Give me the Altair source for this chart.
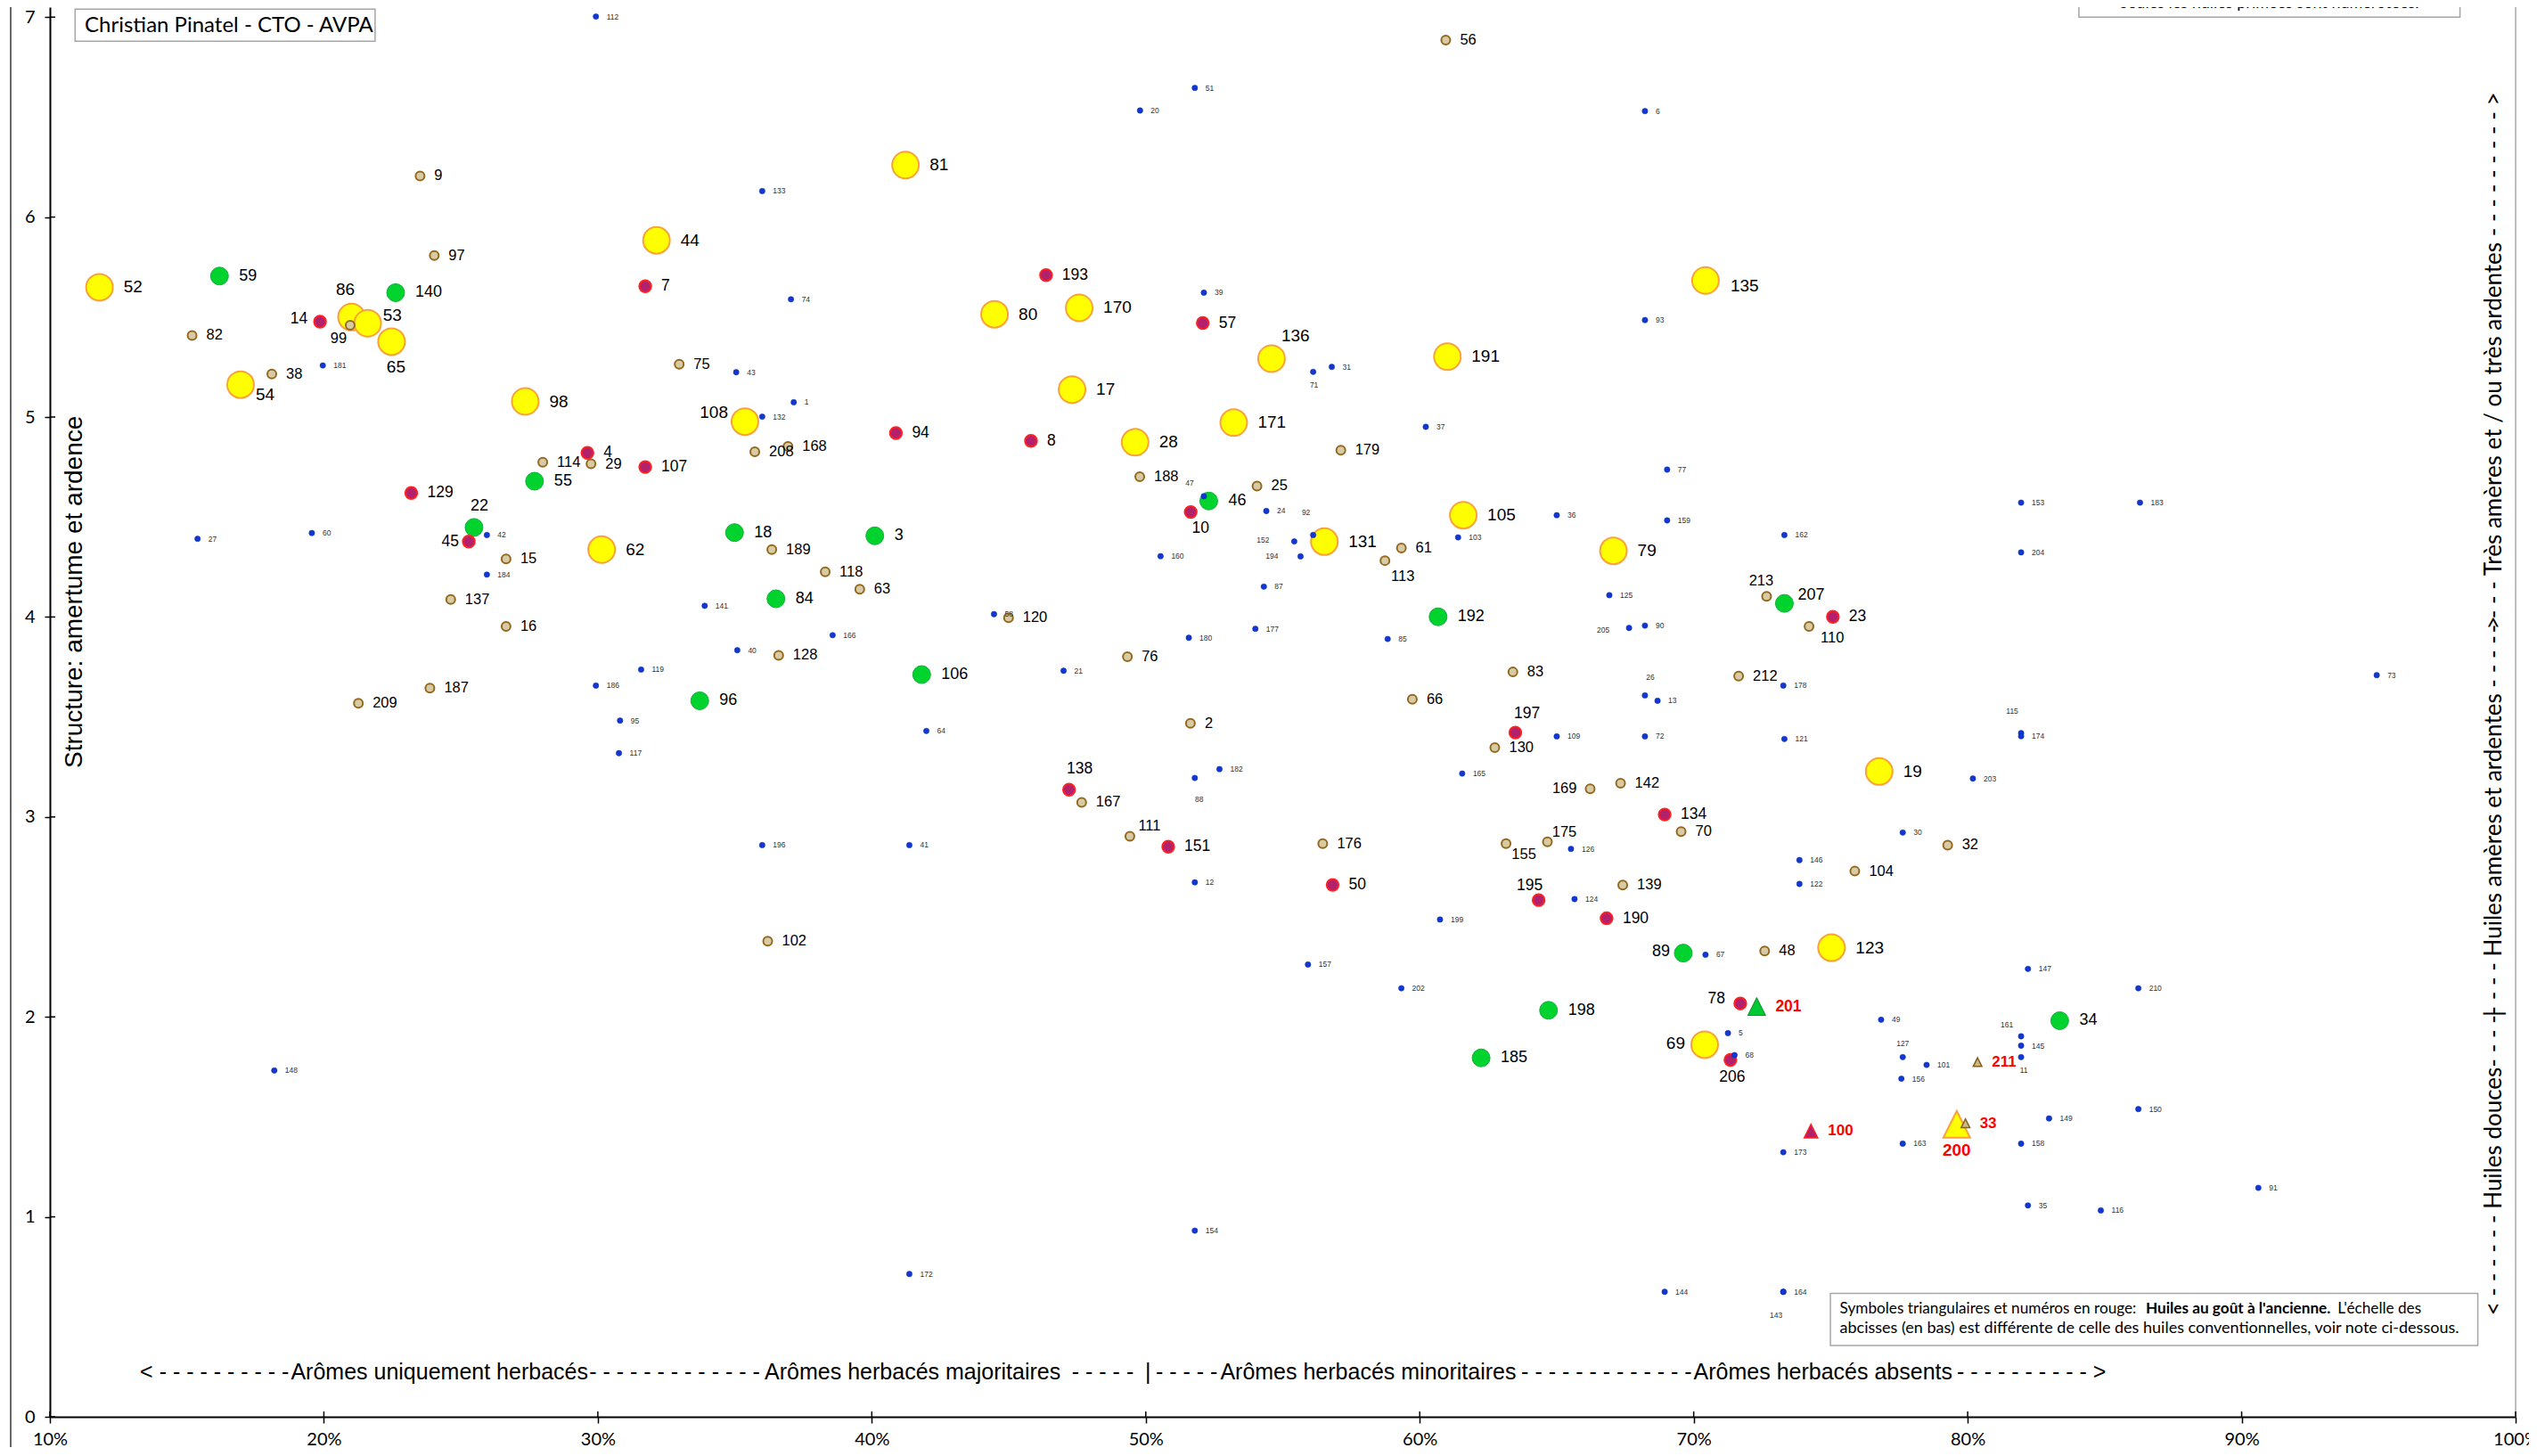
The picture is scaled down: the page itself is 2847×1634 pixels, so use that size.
import altair as alt
import pandas as pd

# ---------------- data (x: % arômes, y: structure) ----------------
JAUNE_ID = ["52", "86", "53", "65", "54", "98", "44", "81", "80", "170", "17", "108", "28", "171",
            "136", "191", "135", "62", "131", "105", "79", "19", "123", "69"]
JAUNE_X = [11.81, 21.01, 21.60, 22.47, 16.96, 27.35, 32.14, 41.23, 44.48, 47.57, 47.31, 35.37, 49.61, 53.21,
           54.59, 61.01, 70.43, 30.14, 56.52, 61.59, 67.07, 76.77, 75.03, 70.40]
JAUNE_Y = [5.649, 5.50, 5.469, 5.377, 5.162, 5.078, 5.884, 6.260, 5.514, 5.546, 5.137, 4.977, 4.874, 4.972,
           5.292, 5.302, 5.683, 4.337, 4.377, 4.509, 4.331, 3.227, 2.346, 1.861]

VERT_ID = ["59", "140", "55", "22", "18", "3", "84", "106", "96", "46", "192", "207", "89", "198", "185", "34"]
VERT_X = [16.19, 22.62, 27.69, 25.48, 34.99, 40.11, 36.50, 41.82, 33.72, 52.30, 60.67, 73.31, 69.62, 64.70, 62.24, 83.36]
VERT_Y = [5.705, 5.622, 4.679, 4.448, 4.422, 4.406, 4.091, 3.712, 3.581, 4.580, 4.001, 4.068, 2.319, 2.033, 1.795, 1.981]

ROUGE_ID = ["14", "7", "4", "107", "129", "45", "193", "57", "94", "8", "10", "138", "151", "197", "23",
            "134", "50", "195", "190", "78", "206"]
ROUGE_X = [19.86, 31.73, 29.62, 31.73, 23.19, 25.29, 46.36, 52.08, 40.88, 45.81, 51.64, 47.20, 50.82, 63.49, 75.08,
           68.94, 56.82, 64.34, 66.82, 71.70, 71.34]
ROUGE_Y = [5.477, 5.654, 4.821, 4.750, 4.620, 4.377, 5.710, 5.470, 4.920, 4.881, 4.525, 3.136, 2.851, 3.422, 4.001,
           3.012, 2.660, 2.584, 2.493, 2.067, 1.785]

BEIGE_ID = ["9", "97", "99", "82", "38", "114", "29", "75", "208", "168", "188", "56", "179", "25", "15", "137",
            "16", "187", "209", "189", "118", "63", "120", "128", "76", "2", "167", "111", "102", "61", "113",
            "213", "110", "83", "66", "212", "130", "169", "142", "70", "176", "155", "175", "104", "139", "48", "32"]
BEIGE_X = [23.51, 24.03, 20.96, 15.19, 18.10, 27.99, 29.75, 32.97, 35.73, 36.94, 49.78, 60.95, 57.12, 54.06, 26.65,
           24.63, 26.65, 23.87, 21.26, 36.35, 38.30, 39.56, 44.99, 36.60, 49.33, 51.63, 47.66, 49.42, 36.20, 59.33,
           58.73, 72.66, 74.21, 63.40, 59.73, 71.64, 62.74, 66.22, 67.33, 69.54, 56.46, 63.15, 64.66, 75.88, 67.41,
           72.59, 79.27]
BEIGE_Y = [6.206, 5.808, 5.459, 5.408, 5.215, 4.774, 4.766, 5.264, 4.826, 4.853, 4.702, 6.885, 4.834, 4.655, 4.290,
           4.088, 3.953, 3.644, 3.568, 4.337, 4.226, 4.139, 3.996, 3.808, 3.801, 3.468, 3.073, 2.903, 2.379, 4.345,
           4.282, 4.103, 3.953, 3.725, 3.589, 3.704, 3.347, 3.141, 3.168, 2.927, 2.867, 2.867, 2.875, 2.729, 2.659,
           2.330, 2.859]

BLEU_ID = ["112", "51", "20", "133", "6", "74", "39", "93", "181", "43", "1", "132", "31", "71", "37", "77", "47",
           "24", "92", "152", "194", "87", "103", "36", "159", "162", "153", "183", "204", "27", "60", "42", "184",
           "160", "141", "58", "166", "180", "177", "85", "125", "205", "90", "40", "119", "186", "21", "178", "73",
           "26", "13", "95", "64", "115", "174", "109", "72", "121", "117", "165", "182", "88", "203", "30", "196",
           "41", "126", "146", "12", "122", "124", "199", "67", "157", "147", "202", "210", "49", "5", "161", "145",
           "68", "11", "127", "101", "148", "156", "150", "149", "163", "158", "173", "91", "35", "116", "154",
           "172", "144", "164", "143"]
BLEU_X = [29.93, 51.79, 49.79, 36.00, 68.22, 37.05, 52.12, 68.22, 19.96, 35.05, 37.15, 36.00, 56.79, 56.11, 60.22,
          69.03, 52.12, 54.40, 56.11, 55.42, 55.65, 54.31, 61.40, 65.00, 69.03, 73.31, 81.95, 86.29, 81.95, 15.39,
          19.56, 25.95, 25.95, 50.54, 33.90, 44.46, 38.57, 51.57, 54.00, 58.83, 66.92, 67.64, 68.22, 35.09, 31.58,
          29.93, 47.00, 73.27, 94.93, 68.22, 68.68, 30.81, 41.99, 81.95, 81.95, 65.00, 68.22, 73.31, 30.77, 61.55,
          52.69, 51.79, 80.19, 77.63, 36.00, 41.37, 65.52, 73.86, 51.79, 73.86, 65.65, 60.74, 70.43, 55.92, 82.20,
          59.33, 86.23, 76.84, 71.25, 81.95, 81.95, 71.49, 81.95, 77.63, 78.50, 18.19, 77.58, 86.23, 82.97, 77.63,
          81.95, 73.27, 90.61, 82.20, 84.86, 51.79, 41.37, 68.94, 73.27, 73.27]
BLEU_Y = [7.003, 6.646, 6.533, 6.130, 6.530, 5.589, 5.622, 5.485, 5.258, 5.224, 5.074, 5.002, 5.251, 5.226, 4.951,
          4.737, 4.604, 4.530, 4.410, 4.378, 4.303, 4.152, 4.398, 4.509, 4.483, 4.410, 4.572, 4.572, 4.323, 4.391,
          4.420, 4.410, 4.212, 4.304, 4.056, 4.014, 3.909, 3.896, 3.941, 3.890, 4.109, 3.945, 3.957, 3.834, 3.737,
          3.657, 3.731, 3.657, 3.709, 3.608, 3.581, 3.482, 3.430, 3.419, 3.404, 3.403, 3.403, 3.390, 3.319, 3.217,
          3.239, 3.195, 3.192, 2.922, 2.859, 2.859, 2.840, 2.784, 2.673, 2.665, 2.589, 2.487, 2.311, 2.262, 2.240,
          2.143, 2.143, 1.986, 1.919, 1.903, 1.856, 1.809, 1.799, 1.799, 1.760, 1.732, 1.691, 1.539, 1.492, 1.366,
          1.366, 1.323, 1.145, 1.057, 1.032, 0.931, 0.714, 0.625, 0.625, 0.625]

# huiles au goût à l'ancienne (triangles)
ANC_ID = ["200", "201", "100", "211", "33"]
ANC_CAT = ["jaune", "vert", "rouge", "beige", "beige"]
ANC_X = [79.60, 72.30, 74.28, 80.36, 79.92]
ANC_Y = [1.463, 2.052, 1.429, 1.774, 1.468]

X_TICKS = [10, 20, 30, 40, 50, 60, 70, 80, 90, 100]
Y_TICKS = [0, 1, 2, 3, 4, 5, 6, 7]

BAS_TEXT = ["< - - - - - - - - - -", "Arômes uniquement herbacés", "- - - - - - - - - - - - -",
            "Arômes herbacés majoritaires", "- - - - -", "|", "- - - - -", "Arômes herbacés minoritaires",
            "- - - - - - - - - - - - -", "Arômes herbacés absents", "- - - - - - - - - - >"]
BAS_X = [16.01, 24.22, 32.80, 41.49, 48.43, 50.08, 51.49, 58.12, 66.82, 74.72, 82.33]
BAS_Y = 0.222

DROITE_TEXT = ["< - - - - - - Huiles douces- - - -", "|",
               "- - - - Huiles amères et ardentes - - - - >",
               "- - - - Très amères et / ou très ardentes - - - - - - - - - >"]
DROITE_Y = [1.258, 2.017, 3.008, 5.272]
DROITE_X = 99.22

TITRE_Y = "Structure: amertume et ardence"
AUTEUR = "Christian Pinatel - CTO - AVPA"
NOTE_HAUT = "Seules les huiles primées sont numérotées."
NOTE_L1 = ["Symboles triangulaires et numéros en rouge:", "Huiles au goût à l'ancienne.", "L'échelle des"]
NOTE_L1_X = [75.33, 86.50, 93.50]
NOTE_L2 = "abcisses (en bas) est différente de celle des huiles conventionnelles, voir note ci-dessous."

# ---------------- styles ----------------
W, H = 2767, 1582
XS = alt.Scale(domain=[10, 100], nice=False, zero=False)
YS = alt.Scale(domain=[0, 7.05], nice=False, zero=False)
NUM_FONT = "Liberation Sans"
NOTE_FONT = "Lato"

CATS = ["jaune", "vert", "rouge", "beige", "bleu", "t_jaune", "t_vert", "t_rouge", "t_beige"]
FILL = ["#FFFF00", "#00D22E", "#B3206B", "#D6CBA4", "#1238D4", "#FFFF00", "#00C832", "#B3206B", "#C8B88A"]
STROKE = ["#F9A23A", "#12B038", "#FF2222", "#96681E", "#0B2AA8", "#F9A23A", "#109028", "#FF2222", "#86601E"]
SW = [2, 1, 2, 2, 0.5, 2, 1, 1.5, 1.5]
SIZE = [900, 400, 180, 100, 40, 900, 400, 230, 95]
TRI = "M0,-1L1,1L-1,1Z"
SHAPE = ["circle"] * 5 + [TRI] * 4

DEFAULT_PLACE = {"jaune": ("left", 27, 0), "vert": ("left", 22, 0), "rouge": ("left", 18, 0),
                 "beige": ("left", 16, 0), "bleu": ("left", 12, 0), "t_jaune": ("center", 0, 29),
                 "t_vert": ("left", 21, 0), "t_rouge": ("left", 19, 0), "t_beige": ("left", 16, 0)}
FSIZE = {"jaune": 19, "vert": 18, "rouge": 17.5, "beige": 16.5, "bleu": 8.5,
         "t_jaune": 19, "t_vert": 17.5, "t_rouge": 17, "t_beige": 17}
TCOL = {c: ("#FF0000" if c.startswith("t_") else ("#333333" if c == "bleu" else "#000000")) for c in CATS}
TWT = {c: ("bold" if c.startswith("t_") else "normal") for c in CATS}
PLACE = {
    "86": ("center", -7, -31), "53": ("left", 17, -9), "99": ("center", -13, 15), "14": ("right", -14, -3),
    "65": ("center", 5, 29), "54": ("left", 17, 11), "22": ("center", 6, -24), "45": ("right", -11, 0),
    "108": ("right", -19, -10), "47": ("center", -16, -15), "10": ("center", 11, 18), "136": ("left", 11, -25),
    "71": ("center", 1, 15), "92": ("center", -8, -25), "152": ("right", -28, -2), "194": ("right", -25, 0),
    "113": ("center", 20, 18), "213": ("center", -6, -17), "207": ("left", 15, -9), "110": ("left", 13, 13),
    "205": ("right", -22, 2), "26": ("center", 6, -20), "197": ("center", 13, -21), "169": ("right", -15, 0),
    "155": ("center", 20, 12), "175": ("center", 19, -11), "195": ("center", -10, -16), "89": ("right", -15, -2),
    "78": ("right", -17, -5), "69": ("right", -22, -1), "206": ("center", 2, 20), "143": ("center", -8, 26),
    "115": ("center", -10, -25), "161": ("center", -16, -13), "11": ("center", 3, 15), "127": ("center", 0, -15),
    "138": ("center", 12, -23), "111": ("center", 22, -12), "88": ("center", 5, 24), "135": ("left", 28, 6),
}

# ---------------- tables ----------------
rows = []
for cat, ids, xs, ys in [("jaune", JAUNE_ID, JAUNE_X, JAUNE_Y), ("vert", VERT_ID, VERT_X, VERT_Y),
                         ("rouge", ROUGE_ID, ROUGE_X, ROUGE_Y), ("beige", BEIGE_ID, BEIGE_X, BEIGE_Y),
                         ("bleu", BLEU_ID, BLEU_X, BLEU_Y)]:
    for i, x, y in zip(ids, xs, ys):
        rows.append({"id": i, "x": x, "y": y, "cat": cat})
for i, c, x, y in zip(ANC_ID, ANC_CAT, ANC_X, ANC_Y):
    rows.append({"id": i, "x": x, "y": y, "cat": "t_" + c})
pts = pd.DataFrame(rows)

XAXIS = alt.Axis(values=X_TICKS, labelExpr="datum.value + '%'", title=None, grid=False, domainColor="#000000",
                 domainWidth=2, tickColor="#000000", tickWidth=1.5, tickSize=7, labelFont=NOTE_FONT,
                 labelFontSize=20, labelColor="#000000", labelPadding=8, labelFlush=False, labelOverlap=False)
YAXIS = alt.Axis(values=Y_TICKS, title=None, grid=False, domainColor="#000000", domainWidth=2,
                 tickColor="#000000", tickWidth=1.5, tickSize=6, labelFont=NOTE_FONT, labelFontSize=20,
                 labelColor="#000000", labelPadding=11, labelFlush=False)


def sx(f="x"):
    return alt.X(f + ":Q", scale=XS, axis=XAXIS)


def sy(f="y"):
    return alt.Y(f + ":Q", scale=YS, axis=YAXIS)


point_layers = []
for c, f, s, w, z, shp in zip(CATS, FILL, STROKE, SW, SIZE, SHAPE):
    point_layers.append(
        alt.Chart(pts).transform_filter(alt.datum.cat == c)
        .mark_point(filled=True, fill=f, stroke=s, strokeWidth=w, size=z, shape=shp,
                    fillOpacity=1, strokeOpacity=1, opacity=1)
        .encode(x=sx(), y=sy())
    )

groups = {}
for r in rows:
    c = r["cat"]
    place = PLACE.get(r["id"], DEFAULT_PLACE[c])
    key = (place, FSIZE[c], TCOL[c], TWT[c])
    groups.setdefault(key, []).append(r["id"])

label_layers = []
for ((align, dx, dy), fs, col, wt), ids in groups.items():
    label_layers.append(
        alt.Chart(pts).transform_filter(alt.FieldOneOfPredicate(field="id", oneOf=ids))
        .mark_text(align=align, baseline="middle", dx=dx, dy=dy, font=NUM_FONT, fontSize=fs,
                   color=col, fontWeight=wt)
        .encode(x=sx(), y=sy(), text="id:N")
    )

# decoration: outer frame line, right border, inner tick halves
frame = alt.Chart(pd.DataFrame({"k": [0]})).mark_rule(color="#333333", strokeWidth=1.5).encode(
    x=alt.value(-44), y=alt.value(-20), y2=alt.value(H + 60))
right_border = alt.Chart(pd.DataFrame({"x": [100], "y": [0], "y2": [7.05]})).mark_rule(
    color="#BDBDBD", strokeWidth=2).encode(x=sx(), y=sy(), y2="y2:Q")
xin = alt.Chart(pd.DataFrame({"x": X_TICKS})).mark_rule(color="#000000", strokeWidth=1.5).encode(
    x=sx(), y=alt.value(H), y2=alt.value(H - 6))
yin = alt.Chart(pd.DataFrame({"y": Y_TICKS})).mark_rule(color="#000000", strokeWidth=1.5).encode(
    y=sy(), x=alt.value(0), x2=alt.value(6))

# boxes
boxes = alt.Chart(pd.DataFrame({
    "x": [10.92, 84.06, 74.99], "x2": [21.87, 97.97, 98.62],
    "y": [6.879, 7.0, 0.356], "y2": [7.04, 7.3, 0.617]})).mark_rect(
    fill="#FFFFFF", stroke="#A6A6A6", strokeWidth=1.5).encode(x=sx(), x2="x2:Q", y=sy(), y2="y2:Q")

auteur = alt.Chart(pd.DataFrame({"x": [11.27], "y": [6.955], "t": [AUTEUR]})).mark_text(
    align="left", baseline="middle", font=NOTE_FONT, fontSize=24, color="#000000").encode(
    x=sx(), y=sy(), text="t:N")
note_haut = alt.Chart(pd.DataFrame({"x": [91.0], "y": [7.046], "t": [NOTE_HAUT]})).mark_text(
    align="center", baseline="alphabetic", font=NOTE_FONT, fontSize=18, color="#000000").encode(
    x=sx(), y=sy(), text="t:N")
note_l1 = alt.Chart(pd.DataFrame({"x": [NOTE_L1_X[0], NOTE_L1_X[2]], "y": [0.537, 0.537],
                                  "t": [NOTE_L1[0], NOTE_L1[2]]})).mark_text(
    align="left", baseline="middle", font=NOTE_FONT, fontSize=17.2, color="#000000").encode(
    x=sx(), y=sy(), text="t:N")
note_bold = alt.Chart(pd.DataFrame({"x": [NOTE_L1_X[1]], "y": [0.537], "t": [NOTE_L1[1]]})).mark_text(
    align="left", baseline="middle", font=NOTE_FONT, fontSize=17.2, fontWeight="bold", color="#000000").encode(
    x=sx(), y=sy(), text="t:N")
note_l2 = alt.Chart(pd.DataFrame({"x": [75.33], "y": [0.44], "t": [NOTE_L2]})).mark_text(
    align="left", baseline="middle", font=NOTE_FONT, fontSize=18, color="#000000").encode(
    x=sx(), y=sy(), text="t:N")

bas = alt.Chart(pd.DataFrame({"x": BAS_X, "y": [BAS_Y] * len(BAS_X), "t": BAS_TEXT})).mark_text(
    align="center", baseline="middle", font=NUM_FONT, fontSize=25, color="#000000").encode(
    x=sx(), y=sy(), text="t:N")
droite = alt.Chart(pd.DataFrame({"x": [DROITE_X] * len(DROITE_Y), "y": DROITE_Y, "t": DROITE_TEXT})).mark_text(
    align="center", baseline="middle", angle=270, font=NOTE_FONT, fontSize=26, color="#000000").encode(
    x=sx(), y=sy(), text="t:N")
titre = alt.Chart(pd.DataFrame({"x": [10.92], "y": [4.125], "t": [TITRE_Y]})).mark_text(
    align="center", baseline="middle", angle=270, font=NUM_FONT, fontSize=28, color="#000000").encode(
    x=sx(), y=sy(), text="t:N")

chart = alt.layer(
    frame, right_border, *point_layers, *label_layers, xin, yin, boxes, auteur, note_haut,
    note_l1, note_bold, note_l2, bas, droite, titre
).properties(
    width=W, height=H, autosize=alt.AutoSizeParams(type="none"),
    padding={"left": 48, "top": 0, "right": 15, "bottom": 34},
    background="#FFFFFF",
).configure_view(stroke=None)

chart.save("out.html", embed_options={"renderer": "svg", "actions": False})
